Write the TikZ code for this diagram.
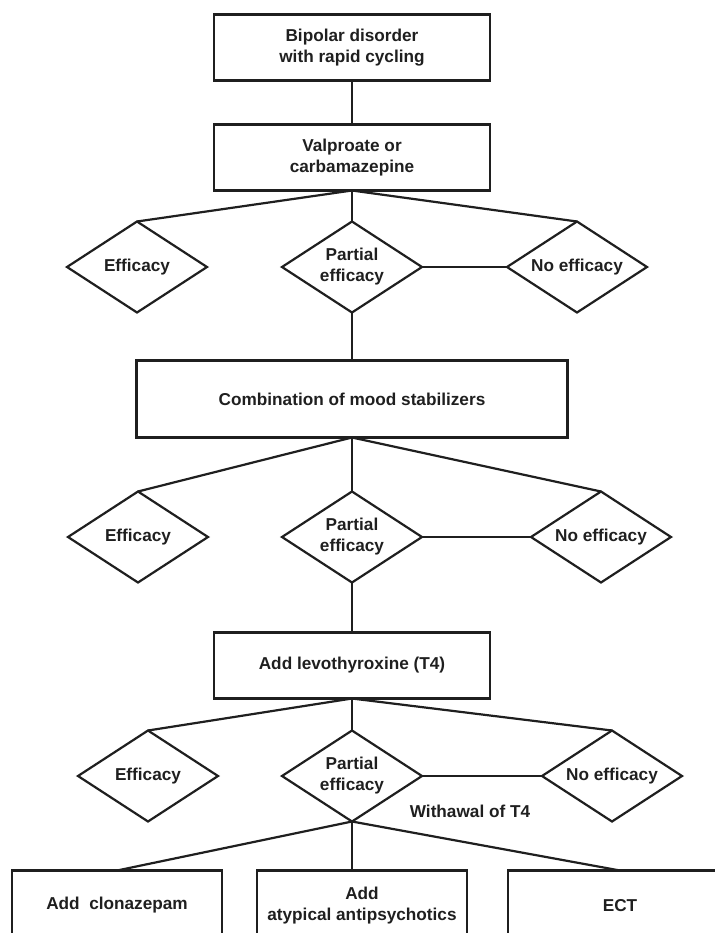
\documentclass[tikz,border=0pt]{standalone}
\usepackage{fontspec}
\setmainfont{Liberation Sans}
\usetikzlibrary{calc,positioning,shapes.geometric}
\definecolor{bpink}{HTML}{1F1F1F}
\newcommand{\bpfont}{\fontsize{8.6}{10.5}\selectfont\bfseries}
\tikzset{%
  bpbox/.style={%
    draw=bpink,
    line width=1.1pt,
    rectangle,
    inner sep=2pt,
    outer sep=0pt,
    minimum width=138pt,
    minimum height=33pt,
    align=center,
    text=bpink,
    font=\bpfont
  },
  bpwide/.style={bpbox,minimum width=215.5pt,minimum height=38.5pt},
  bpleaf/.style={bpbox,minimum width=105pt,minimum height=35pt},
  bpdecision/.style={%
    diamond,
    draw=bpink,
    line width=1.1pt,
    aspect=1.55,
    inner sep=0pt,
    outer sep=0pt,
    minimum width=70pt,
    minimum height=45.5pt,
    align=center,
    text=bpink,
    font=\bpfont
  },
  bpline/.style={draw=bpink,line width=1.1pt},
  bplabel/.style={font=\bpfont,text=bpink,inner sep=0pt}
}

\begin{document}
\begin{tikzpicture}
    \useasboundingbox (0,0) rectangle (357.5pt,-466.5pt);
    \clip (0,0) rectangle (357.5pt,-466.5pt);

    \node[bpbox] (bipolar) at (176pt,-23.75pt) {Bipolar disorder\\with rapid cycling};
    \node[bpbox,below=22pt of bipolar] (valpro) {Valproate or\\carbamazepine};
    \node[bpdecision,below=15.5pt of valpro] (part1) {Partial\\efficacy};
    \node[bpdecision,left=37.5pt of part1] (eff1) {Efficacy};
    \node[bpdecision,right=42.5pt of part1] (noeff1) {No efficacy};
    \node[bpwide,below=24pt of part1] (combo) {Combination of mood stabilizers};
    \node[bpdecision,below=27pt of combo] (part2) {Partial\\efficacy};
    \node[bpdecision,left=37pt of part2] (eff2) {Efficacy};
    \node[bpdecision,right=54.5pt of part2] (noeff2) {No efficacy};
    \node[bpbox,below=25pt of part2] (levo) {Add levothyroxine (T4)};
    \node[bpdecision,below=16pt of levo] (part3) {Partial\\efficacy};
    \node[bpdecision,left=32pt of part3] (eff3) {Efficacy};
    \node[bpdecision,right=60pt of part3] (noeff3) {No efficacy};
    \node[bplabel] (withdraw) at ($(part3.east)+(24pt,-17.5pt)$) {Withawal of T4};
    \node[bpleaf,below=24.5pt of part3,xshift=5pt] (atyp) {Add\\atypical antipsychotics};
    \node[bpleaf,left=17.5pt of atyp] (clona) {Add~~clonazepam};
    \node[bpleaf,minimum width=112pt,right=20.5pt of atyp] (ect) {ECT};

    \draw[bpline] (bipolar) -- (valpro);
    \foreach \src/\row in {valpro/1,combo/2,levo/3} {
      \draw[bpline] (\src.south) -- (eff\row.north);
      \draw[bpline] (\src.south) -- (part\row.north);
      \draw[bpline] (\src.south) -- (noeff\row.north);
      \draw[bpline] (part\row.east) -- (noeff\row.west);
    }
    \draw[bpline] (part1.south) -- (combo.north -| part1.south);
    \draw[bpline] (part2.south) -- (levo.north -| part2.south);
    \draw[bpline] (part3.south) -- (clona.north);
    \draw[bpline] (part3.south) -- (atyp.north -| part3.south);
    \draw[bpline] (part3.south) -- (ect.north);
\end{tikzpicture}
\end{document}
